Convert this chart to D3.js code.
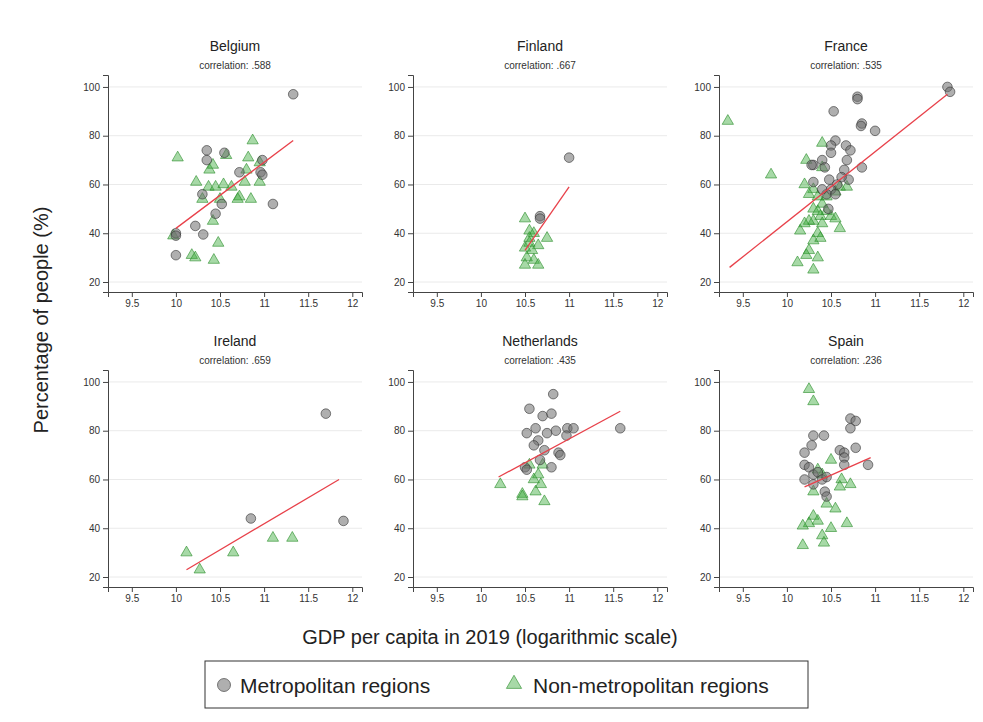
<!DOCTYPE html>
<html><head><meta charset="utf-8">
<script src="https://cdn.jsdelivr.net/npm/d3@7"></script>
<style>body{margin:0;background:#fff;font-family:Arial,"Liberation Sans",sans-serif}</style>
</head><body><svg id="c"></svg>
<script>
const countries = ["Belgium","Finland","France","Ireland","Netherlands","Spain"];
const correlations = [".588",".667",".535",".659",".435",".236"];
const xTicks = [9.5,10,10.5,11,11.5,12];
const yTicks = [20,40,60,80,100];
const metro = [
  [[11.33,97],[10.35,74],[10.35,70],[10.55,73],[10.72,65],[10.98,70],[10.96,65],[10.98,64],[11.1,52],[10.3,56],[10.52,52],[10.45,48],[10.22,43],[10.31,39.5],[10.0,40],[10.0,39],[10.0,31]],
  [[11.0,71],[10.67,47],[10.67,46]],
  [[11.82,100],[11.85,98],[10.8,96],[10.8,95],[10.53,90],[10.85,85],[10.84,84],[11.0,82],[10.55,78],[10.67,76],[10.72,74],[10.5,76],[10.5,73],[10.4,70],[10.68,70],[10.3,68],[10.28,68],[10.43,67],[10.65,66],[10.85,67],[10.7,62],[10.3,61],[10.48,62],[10.57,60],[10.5,58],[10.45,56],[10.55,56],[10.62,63],[10.47,50],[10.4,58]],
  [[11.7,87],[10.85,44],[11.9,43]],
  [[10.82,95],[10.55,89],[10.7,86],[10.8,87],[10.62,81],[10.85,80],[10.98,81],[11.05,81],[11.58,81],[10.75,79],[10.52,79],[10.65,76],[10.6,74],[10.97,78],[10.72,72],[10.88,71],[10.9,70],[10.5,65],[10.52,64],[10.8,65],[10.67,68]],
  [[10.72,85],[10.78,84],[10.72,81],[10.42,78],[10.3,78],[10.28,74],[10.6,72],[10.65,71],[10.78,73],[10.65,69],[10.2,71],[10.2,66],[10.25,65],[10.3,62],[10.35,63],[10.4,60],[10.45,61],[10.2,60],[10.3,58],[10.43,55],[10.45,53],[10.92,66],[10.65,66]]
];
const nonMetro = [
  [[10.02,71],[10.38,66],[10.42,68],[10.57,72],[10.87,78],[10.82,71],[10.95,69],[10.8,66],[10.23,61],[10.37,59],[10.45,59],[10.54,60],[10.63,59],[10.72,55],[10.7,54],[10.85,54],[10.78,61],[10.95,61],[10.3,54],[10.5,54],[10.42,45],[10.48,36],[9.97,39],[10.18,31],[10.22,30],[10.43,29]],
  [[10.5,46],[10.55,41],[10.6,40],[10.55,38],[10.75,38],[10.65,35],[10.5,34],[10.58,33],[10.52,30],[10.6,29],[10.65,27],[10.5,27],[10.55,36]],
  [[9.33,86],[9.82,64],[10.4,77],[10.22,70],[10.4,67],[10.2,60],[10.3,58],[10.25,56],[10.35,55],[10.4,52],[10.3,50],[10.35,49],[10.45,49],[10.38,47],[10.3,45],[10.25,45],[10.2,44],[10.4,44],[10.5,47],[10.55,46],[10.6,42],[10.15,41],[10.35,40],[10.3,37],[10.38,38],[10.25,33],[10.22,31],[10.35,30],[10.12,28],[10.3,25],[10.55,57],[10.6,59],[10.68,59],[10.45,55]],
  [[10.12,30],[10.27,23],[10.65,30],[11.1,36],[11.32,36]],
  [[10.22,58],[10.47,54],[10.47,53],[10.6,60],[10.68,58],[10.62,55],[10.72,51],[10.55,66],[10.7,66],[10.65,62]],
  [[10.25,97],[10.3,92],[10.5,68],[10.35,64],[10.4,62],[10.62,60],[10.6,57],[10.72,58],[10.3,55],[10.45,50],[10.55,48],[10.68,42],[10.3,45],[10.35,43],[10.5,40],[10.25,42],[10.18,41],[10.4,37],[10.18,33],[10.42,34]]
];
const fitLines = [
  [[10.0,42],[11.33,78]],
  [[10.5,33],[11.0,59]],
  [[9.35,26],[11.82,97]],
  [[10.12,23],[11.85,60]],
  [[10.2,61],[11.58,88]],
  [[10.2,57],[10.95,69]]
];

const W = 983, H = 722;
const svg = d3.select("#c").attr("width", W).attr("height", H);
const pw = 254, ph = 217;
const lefts = [108, 413, 719], tops = [75, 370];

countries.forEach((name, i) => {
  const ox = lefts[i % 3], oy = tops[Math.floor(i / 3)];
  const g = svg.append("g").attr("transform", `translate(${ox},${oy})`);
  const x = d3.scaleLinear().domain([9.23, 12.11]).range([0, pw]);
  const y = d3.scaleLinear().domain([15.9, 104.9]).range([ph, 0]);

  g.selectAll(".grid").data(yTicks).enter().append("line")
    .attr("x1", 0).attr("x2", pw).attr("y1", d => y(d)).attr("y2", d => y(d))
    .attr("stroke", "#eaeaea").attr("stroke-width", 1);

  const xa = g.append("g").attr("transform", `translate(0,${ph})`)
    .call(d3.axisBottom(x).tickValues(xTicks).tickSize(5).tickFormat(d3.format("")));
  const ya = g.append("g")
    .call(d3.axisLeft(y).tickValues(yTicks).tickSize(5));
  [xa, ya].forEach(a => {
    a.select(".domain").attr("stroke", "#444");
    a.selectAll(".tick line").attr("stroke", "#444");
    a.selectAll("text").attr("fill", "#333").style("font-size", "10px");
  });

  g.selectAll(".tri").data(nonMetro[i]).enter().append("path")
    .attr("d", d3.symbol(d3.symbolTriangle, 55))
    .attr("transform", d => `translate(${x(d[0])},${y(d[1])})`)
    .attr("fill", "rgba(60,170,60,0.45)").attr("stroke", "rgba(40,140,40,0.6)");
  g.selectAll(".dot").data(metro[i]).enter().append("circle")
    .attr("cx", d => x(d[0])).attr("cy", d => y(d[1])).attr("r", 4.8)
    .attr("fill", "rgba(110,110,110,0.55)").attr("stroke", "rgba(50,50,50,0.6)");

  g.append("path").datum(fitLines[i])
    .attr("d", d3.line().x(d => x(d[0])).y(d => y(d[1])))
    .attr("stroke", "#e8414a").attr("stroke-width", 1.3).attr("fill", "none");

  g.append("text").attr("x", pw / 2).attr("y", -24).attr("text-anchor", "middle")
    .style("font-size", "14px").attr("fill", "#222").text(name);
  g.append("text").attr("x", pw / 2).attr("y", -6).attr("text-anchor", "middle")
    .style("font-size", "10px").attr("fill", "#333").text(`correlation: ${correlations[i]}`);
});

svg.append("text").attr("transform", "rotate(-90)").attr("x", -320).attr("y", 48)
  .attr("text-anchor", "middle").style("font-size", "20px").attr("fill", "#222")
  .text("Percentage of people (%)");
svg.append("text").attr("x", 490).attr("y", 644).attr("text-anchor", "middle")
  .style("font-size", "20px").attr("fill", "#222")
  .text("GDP per capita in 2019 (logarithmic scale)");

const lg = svg.append("g");
lg.append("rect").attr("x", 205).attr("y", 661).attr("width", 603).attr("height", 47)
  .attr("fill", "#fff").attr("stroke", "#333");
lg.append("circle").attr("cx", 224).attr("cy", 685).attr("r", 6.5)
  .attr("fill", "rgba(110,110,110,0.55)").attr("stroke", "rgba(50,50,50,0.6)");
lg.append("text").attr("x", 240).attr("y", 693).style("font-size", "21px").attr("fill", "#222")
  .text("Metropolitan regions");
lg.append("path").attr("d", d3.symbol(d3.symbolTriangle, 100))
  .attr("transform", "translate(514,684)")
  .attr("fill", "rgba(60,170,60,0.45)").attr("stroke", "rgba(40,140,40,0.6)");
lg.append("text").attr("x", 533).attr("y", 693).style("font-size", "21px").attr("fill", "#222")
  .text("Non-metropolitan regions");
</script></body></html>
